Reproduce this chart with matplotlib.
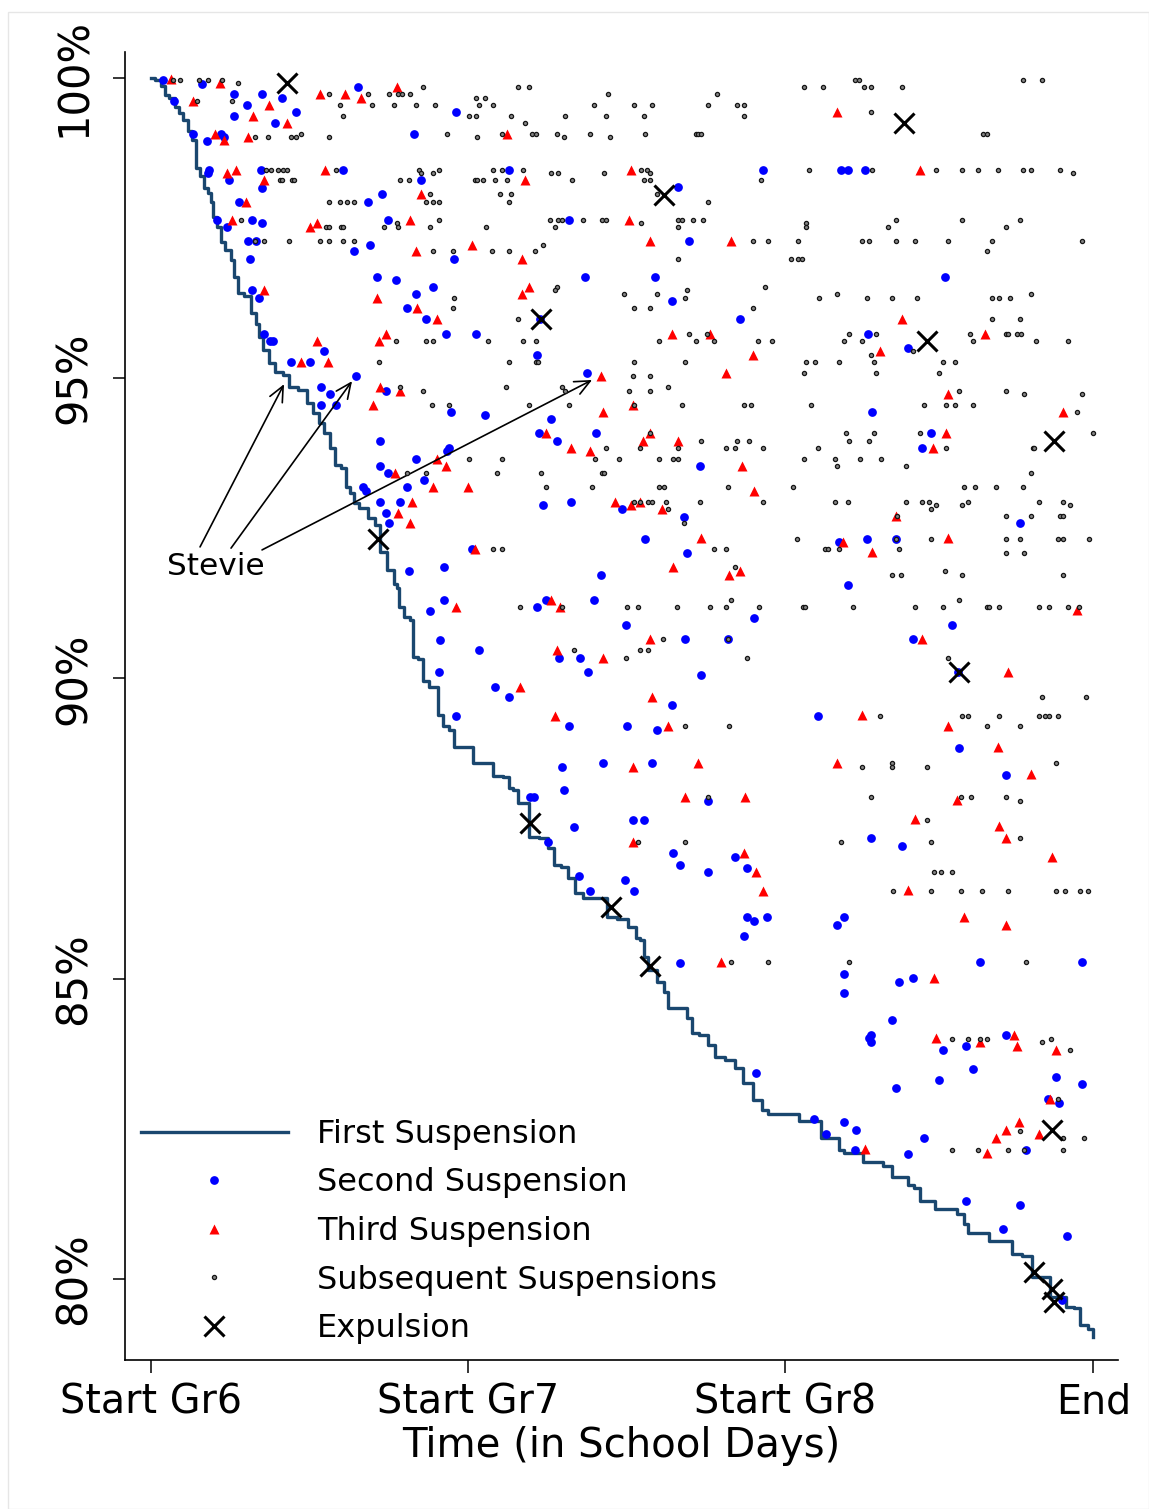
import matplotlib
matplotlib.use("Agg")
import matplotlib.pyplot as plt
from matplotlib.patches import Rectangle

# x = school days from start of grade 6 (a grade is ~180 days), y = percent of students
grade_ticks = [0, 180, 360, 535]
grade_labels = ["Start Gr6", "Start Gr7", "Start Gr8", "End"]
pct_ticks = [80, 85, 90, 95, 100]
pct_labels = ["80%", "85%", "90%", "95%", "100%"]

# first suspension survival curve
first_x = [0, 4.1, 7.0, 8.9, 11.8, 15.5, 16.5, 20.3, 21.2, 25.0, 26.0, 29.7, 30.7, 33.5, 34.8,
           35.4, 39.2, 40.1, 43.9, 46.7, 47.7, 50.5, 55.3, 58.1, 60.9, 61.9, 65.7, 68.5, 72.3,
           78.0, 78.9, 87.4, 89.3, 94.1, 96.9, 99.8, 103.5, 105.5, 110.2, 111.1, 114.9, 115.8,
           120.6, 125.3, 128.7, 131.0, 136.7, 138.6, 140.4, 141.4, 146.1, 148.0, 149.9, 153.7,
           154.6, 161.3, 164.1, 167.0, 171.7, 172.6, 182.1, 184.0, 191.5, 196.3, 202.9, 203.9,
           206.7, 210.5, 218.1, 222.8, 227.5, 230.4, 235.1, 238.9, 242.6, 247.4, 255.9, 261.6,
           267.3, 274.8, 275.8, 279.6, 280.5, 284.3, 290.0, 292.8, 294.7, 303.2, 305.1, 308.9,
           313.6, 319.3, 321.2, 330.7, 332.6, 339.2, 343.9, 349.6, 350.5, 367.4, 368.5, 377.1,
           383.7, 390.1, 391.3, 395.1, 403.6, 404.3, 414.9, 415.7, 420.6, 421.3, 429.1, 429.9,
           436.7, 436.7, 444.2, 446.2, 454.7, 460.4, 462.2, 466.0, 473.6, 478.3, 485.0, 492.5,
           496.3, 503.9, 517.1, 521.9, 526.6, 528.5, 535.1, 535.1]
first_y = [100.0, 99.97, 99.86, 99.72, 99.66, 99.52, 99.41, 99.30, 99.11, 98.97, 98.50, 98.36,
           98.16, 98.08, 97.94, 97.69, 97.52, 97.27, 97.14, 96.97, 96.69, 96.41, 96.36, 96.08,
           95.91, 95.69, 95.47, 95.25, 95.11, 95.05, 94.86, 94.80, 94.58, 94.42, 94.25, 94.08,
           93.83, 93.55, 93.50, 93.19, 93.08, 92.92, 92.83, 92.67, 92.55, 92.11, 91.81, 91.58,
           91.50, 91.19, 91.03, 90.97, 90.36, 90.33, 89.95, 89.86, 89.39, 89.20, 89.14, 88.85,
           88.85, 88.60, 88.60, 88.38, 88.36, 88.17, 88.14, 87.92, 87.36, 87.34, 87.17, 86.89,
           86.86, 86.67, 86.42, 86.35, 86.35, 86.03, 86.00, 85.86, 85.67, 85.64, 85.36, 85.14,
           84.95, 84.78, 84.52, 84.52, 84.34, 84.09, 84.06, 83.89, 83.70, 83.64, 83.51, 83.26,
           82.98, 82.81, 82.74, 82.74, 82.63, 82.63, 82.34, 82.34, 82.15, 82.10, 82.10, 81.95,
           81.95, 81.88, 81.88, 81.70, 81.70, 81.56, 81.51, 81.30, 81.30, 81.17, 81.17, 81.09,
           80.92, 80.77, 80.77, 80.63, 80.63, 80.42, 80.38, 80.03, 79.70, 79.54, 79.51, 79.23,
           79.17, 79.04]

second_x = [7.0, 29.1, 47.3, 63.2, 117.4, 13.1, 54.3, 74.2, 82.2, 47.3, 70.2, 173.2, 24.0, 32.0,
            39.6, 41.6, 149.4, 32.9, 32.2, 44.3, 62.3, 63.2, 109.2, 153.3, 50.0, 123.4, 131.3,
            37.3, 43.2, 57.2, 63.2, 134.4, 55.3, 59.5, 56.2, 115.1, 124.2, 172.2, 128.3, 139.3,
            150.3, 160.3, 57.2, 61.2, 145.4, 156.3, 167.3, 64.2, 67.4, 69.3, 98.2, 79.3, 90.3,
            116.2, 96.4, 101.5, 96.4, 105.2, 133.3, 170.4, 130.2, 150.3, 168.1, 169.2, 130.2,
            134.4, 155.2, 145.4, 120.2, 122.3,
            203.3, 347.4, 299.4, 237.5, 305.5, 246.5, 286.4, 295.5, 334.5, 220.9, 184.4, 219.4,
            247.4, 189.5, 227.3, 220.3, 230.4, 252.5, 311.4,
            391.7, 395.6, 405.6, 450.7, 406.8, 429.7, 409.6, 442.8, 437.7,
            130.2, 141.2, 133.3, 135.2, 146.3, 166.4, 166.4, 158.4, 164.3, 163.7, 173.2,
            222.4, 238.3, 267.5, 302.5, 280.4, 304.5, 182.1, 255.4, 224.3, 219.4, 251.6, 269.6,
            342.6, 303.4, 327.5, 186.3, 231.5, 243.4, 248.3, 312.5, 195.3, 203.3, 295.5, 237.4,
            270.3, 287.5, 233.4, 256.5, 284.5, 234.4, 215.2, 217.5, 316.5, 273.5, 279.6, 240.4,
            225.3, 296.4, 300.6, 331.5, 338.4, 316.5, 243.2, 269.3, 249.3, 274.4, 338.4, 342.6,
            349.6,
            493.6, 390.5, 406.6, 422.7, 395.6, 454.7, 432.5, 458.1, 378.6, 458.7, 485.7, 409.0,
            426.6, 393.5, 389.7,
            300.6, 336.6, 343.6,
            393.5, 393.5, 424.6, 432.7, 470.8, 528.8, 420.6, 408.7, 407.7, 408.7, 449.7, 462.6,
            485.7, 466.8, 447.6, 422.7, 513.7, 528.8, 509.5, 515.6, 376.5, 393.5, 400.5, 383.5,
            399.6, 438.6, 429.7, 496.7, 462.6, 493.6, 483.6, 519.8, 517.2]
second_y = [99.97, 99.90, 99.73, 99.73, 99.85, 99.61, 99.55, 99.66, 99.43, 99.37, 99.25, 99.43,
            99.07, 98.95, 99.07, 99.01, 99.07, 98.47, 98.41, 98.30, 98.47, 98.17, 98.47, 98.30,
            97.94, 97.94, 98.06, 97.64, 97.52, 97.64, 97.58, 97.64, 97.29, 97.29, 96.99, 97.11,
            97.22, 96.99, 96.69, 96.63, 96.40, 96.51, 96.46, 96.34, 96.16, 95.98, 95.74, 95.74,
            95.62, 95.62, 95.45, 95.27, 95.27, 95.03, 94.85, 94.74, 94.55, 94.55, 94.79, 94.44,
            93.96, 93.66, 93.78, 93.83, 93.54, 93.42, 93.30, 93.18, 93.18, 93.12,
            98.47, 98.47, 98.18, 97.64, 97.29, 96.69, 96.69, 96.28, 95.98, 95.98, 95.74, 95.39,
            95.09, 94.38, 94.32, 94.08, 93.96, 94.08, 93.54,
            98.47, 98.47, 98.47, 96.69, 95.74, 95.51, 94.44, 94.08, 93.84,
            92.93, 92.93, 92.75, 92.58, 91.79, 91.86, 91.31, 91.13, 90.64, 90.11, 89.38,
            92.88, 92.93, 92.82, 92.69, 92.33, 92.09, 92.16, 91.73, 91.31, 91.19, 91.31, 90.89,
            91.01, 90.65, 90.65, 90.47, 90.34, 90.34, 90.11, 90.05, 89.86, 89.69, 89.56, 89.20,
            89.20, 89.14, 88.53, 88.59, 88.59, 88.15, 88.03, 88.03, 87.96, 87.65, 87.65, 87.52,
            87.27, 87.09, 86.90, 87.03, 86.84, 86.78, 86.71, 86.65, 86.46, 86.46, 86.02, 85.96,
            86.02,
            92.58, 92.28, 92.33, 92.33, 91.55, 90.89, 90.65, 90.11, 89.38, 88.84, 88.40, 87.34,
            87.21, 86.02, 85.90,
            85.26, 85.71, 83.43,
            85.08, 84.76, 84.95, 85.01, 85.27, 85.27, 84.32, 84.07, 84.01, 83.94, 83.82, 83.88,
            84.07, 83.50, 83.31, 83.18, 83.37, 83.24, 83.00, 82.93, 82.67, 82.61, 82.48, 82.41,
            82.15, 82.35, 82.08, 82.15, 81.30, 81.24, 80.83, 80.71, 79.65]

third_x = [11.2, 39.2, 24.0, 67.2, 58.1, 77.2, 96.1, 110.2, 119.3, 139.5, 36.3, 41.3, 55.3, 43.2,
           48.3, 64.3, 99.0, 54.1, 46.2, 90.3, 94.3, 147.2, 153.3, 150.3, 64.2, 128.3, 151.2,
           162.4, 133.3, 129.3, 94.3, 85.2, 100.3, 130.2, 141.4, 126.2, 162.4, 167.3, 138.4, 160.3,
           202.3, 212.4, 272.4, 271.4, 182.5, 210.5, 283.5, 329.5, 214.5, 210.5, 295.5, 317.6,
           341.5, 326.5, 255.4, 256.5, 273.5, 224.5, 238.3, 249.3, 279.4, 283.5, 299.4, 335.4,
           180.2, 342.6,
           389.4, 436.5, 426.6, 473.6, 413.6, 452.6, 517.7, 451.6, 443.7,
           148.4, 140.3, 147.2, 173.4,
           263.5, 272.4, 277.5, 290.3, 184.2, 312.5, 296.4, 328.4, 334.6, 227.3, 232.4, 283.5,
           230.4, 256.5, 209.4, 284.5, 229.4, 293.4, 273.5, 310.4, 303.4, 337.5, 273.5, 336.6,
           343.6, 347.5,
           422.7, 392.6, 409.6, 452.6, 525.8, 437.7, 486.7, 403.6, 452.6, 480.8, 389.7, 499.7,
           457.7, 433.7, 481.7, 485.7, 511.8, 429.7, 461.7, 485.7,
           323.5,
           444.6, 445.6, 470.8, 489.7, 491.8, 513.7, 510.5, 492.7, 485.7, 479.7, 503.9, 474.6,
           405.6]
third_y = [99.98, 99.91, 99.61, 99.55, 99.37, 99.25, 99.73, 99.73, 99.67, 99.85, 99.07, 98.96,
           99.01, 98.41, 98.47, 98.30, 98.47, 97.94, 97.64, 97.52, 97.58, 97.64, 98.06, 97.11,
           96.46, 96.34, 96.16, 95.98, 95.74, 95.62, 95.62, 95.27, 95.27, 94.85, 94.79, 94.55,
           93.66, 93.54, 93.42, 93.18,
           99.07, 98.30, 98.47, 97.64, 97.22, 96.99, 97.29, 97.29, 96.51, 96.40, 95.74, 95.74,
           95.39, 95.09, 95.04, 94.44, 94.55, 94.08, 93.84, 93.78, 93.96, 94.08, 93.96, 93.54,
           93.18, 93.12,
           99.43, 98.47, 95.98, 95.74, 95.45, 94.74, 94.44, 94.08, 93.84,
           92.94, 92.76, 92.58, 91.19,
           92.94, 92.89, 92.94, 92.82, 92.16, 92.34, 91.86, 91.73, 91.79, 91.31, 91.19, 90.65,
           90.47, 90.34, 89.86, 89.69, 89.38, 89.20, 88.53, 88.59, 88.03, 88.03, 87.27, 87.09,
           86.78, 86.46,
           92.70, 92.28, 92.10, 92.34, 91.14, 90.66, 90.11, 89.39, 89.21, 88.85, 88.60, 88.41,
           87.97, 87.66, 87.54, 87.35, 87.03, 86.47, 86.03, 85.90,
           85.27,
           85.01, 84.01, 83.94, 84.07, 83.88, 83.82, 82.99, 82.62, 82.48, 82.35, 82.42, 82.09,
           82.16]

# subsequent suspensions: one row per student (percent level) with the days of each event
subseq_y = [99.97, 99.91, 99.61, 99.73, 99.85, 99.55, 99.37, 99.67, 99.01, 99.07, 99.25, 99.43,
            98.47, 98.41, 98.30, 98.06, 97.94, 97.64, 97.58, 97.52, 97.29, 97.22, 97.11, 96.99,
            96.51, 96.46, 96.40, 96.34, 96.16, 95.98, 95.74, 95.62, 95.45, 95.39, 95.27, 95.09,
            95.03, 94.85, 94.79, 94.74, 94.55, 94.44, 94.08, 93.96, 93.84, 93.66, 93.54, 93.42,
            93.18, 92.94, 92.88, 92.82, 92.70, 92.58, 92.33, 92.16, 92.09, 91.86, 91.79, 91.73,
            91.31, 91.19, 90.65, 90.47, 90.34, 89.69, 89.38, 89.20, 88.59, 88.52, 88.03, 87.96,
            87.65, 87.34, 87.27, 86.77, 86.46, 85.27, 84.00, 83.94, 83.82, 82.99, 82.47, 82.35,
            82.15]
subseq_x = [
    [12.7, 16.3, 27.3, 32.2, 40.1, 399.4, 401.7, 494.8, 505.8],
    [49.2],
    [26.3, 46.2],
    [101.1, 123.4, 135.3, 140.4, 142.4, 147.2, 259.5, 321.6],
    [154.3, 208.4, 214.5, 370.6, 381.6, 404.7, 408.7, 426.6],
    [107.2, 125.3, 138.2, 150.5, 161.3, 186.4, 194.4, 251.4, 274.4, 284.5, 316.5, 332.6, 336.6],
    [109.2, 180.4, 184.4, 204.3, 235.3, 258.4, 279.6, 336.6],
    [184.4, 189.5],
    [59.1, 66.3, 79.3, 82.2, 101.1, 185.3, 234.4, 260.5],
    [85.2, 168.3, 199.3, 216.4, 218.5, 230.4, 249.3, 280.5, 309.3, 310.8, 312.5, 472.6, 474.7],
    [212.4],
    [408.7],
    [65.1, 68.1, 72.1, 75.1, 77.2, 105.1, 152.2, 163.4, 194.4, 199.3, 211.4, 278.4, 281.5,
     373.5, 409.6, 445.8, 460.7, 469.8, 480.8, 494.8, 499.7, 515.8],
    [153.3, 160.3, 227.3, 231.3, 257.4, 283.5, 523.7],
    [73.3, 74.2, 80.2, 81.2, 141.4, 146.3, 184.0, 185.3, 188.5, 195.3, 202.3, 239.2, 279.6,
     283.5, 346.4],
    [158.3, 198.4, 204.4, 287.5],
    [101.1, 107.2, 111.1, 115.1, 156.3, 160.3, 163.4, 203.3, 316.5],
    [51.1, 163.4, 226.4, 231.3, 233.2, 245.5, 256.3, 258.4, 299.4, 301.5, 307.6, 313.5, 422.7,
     460.7, 493.6],
    [139.5, 278.4, 371.6],
    [99.2, 101.1, 108.1, 109.2, 132.5, 140.3, 158.3, 190.4, 229.4, 299.4, 371.6, 418.7, 485.7],
    [59.1, 64.3, 78.2, 96.1, 101.1, 109.2, 115.1, 341.5, 350.5, 367.6, 403.7, 407.7, 422.7,
     433.7, 452.6, 477.7, 528.7],
    [222.4],
    [160.3, 171.3, 193.5, 203.3, 218.2, 474.7],
    [299.4, 363.4, 367.6, 369.5],
    [230.4, 348.7],
    [229.4, 304.4],
    [268.4, 287.5, 389.6, 499.7],
    [172.2, 303.4, 379.5, 406.6, 420.6, 434.8, 477.7, 481.7, 487.8],
    [171.3, 274.4, 283.5, 341.5],
    [208.4, 477.7, 493.6],
    [305.5, 315.6, 396.5, 411.7, 464.7, 485.7, 486.7, 491.8, 493.9],
    [139.3, 156.3, 160.3, 191.2, 211.4, 218.5, 288.5, 309.5, 319.5, 344.5, 352.5, 393.5, 403.7,
     466.8, 502.7, 520.7],
    [432.5],
    [408.7],
    [129.3, 203.3, 218.5, 219.6, 274.4, 303.4, 371.6, 376.7, 390.5, 410.6, 449.7, 456.7],
    [370.6, 411.7, 447.6],
    [273.5, 283.5],
    [141.2, 201.4, 233.2, 293.4],
    [154.3, 235.1, 271.4, 283.5, 458.7, 485.7],
    [495.7, 528.8],
    [159.4, 169.2, 214.5, 237.5, 274.4, 301.5, 336.6, 340.5, 374.6, 438.8, 451.6, 456.7, 466.8],
    [525.7],
    [283.5, 394.7, 410.6, 436.7, 534.8],
    [312.5, 332.6, 339.6, 396.5, 407.7],
    [258.4, 277.5, 299.4, 326.5, 331.6, 347.5, 378.6, 451.6, 500.7, 501.6],
    [180.4, 199.3, 252.3, 265.4, 288.5, 296.4, 299.4, 370.6, 388.6, 402.6, 414.7],
    [389.6, 428.6],
    [145.4, 156.3, 196.3, 221.5, 256.3, 257.2, 499.7],
    [224.5, 250.4, 288.5, 291.5, 327.6, 364.4, 461.7, 467.7, 479.7, 494.8],
    [274.4, 277.5, 282.4, 284.5, 292.4, 311.6, 347.5, 388.6, 395.6, 428.6, 437.7, 441.8, 463.8,
     503.9, 517.9],
    [445.8, 460.7, 521.9],
    [293.4, 442.8],
    [423.6, 485.7, 499.7, 515.8, 517.9],
    [302.5],
    [366.7, 422.7, 442.8, 485.7, 493.6, 514.9, 517.9, 532.7],
    [194.4, 199.3, 319.5, 326.5, 382.6, 384.6, 390.7, 424.8],
    [485.7, 495.7],
    [331.5],
    [450.7],
    [420.6, 425.7, 460.7, 517.7],
    [329.5, 458.7],
    [209.4, 233.4, 270.5, 276.5, 298.5, 317.4, 326.5, 345.4, 370.4, 371.4, 398.6, 433.7, 449.7,
     474.7, 475.7, 481.7, 503.9, 509.8, 520.7, 526.8],
    [290.6, 327.5],
    [240.4, 277.5, 282.4],
    [269.6, 338.4, 452.6],
    [505.8, 530.8],
    [413.6, 460.7, 463.8, 481.7, 503.9, 507.8, 509.9, 514.9],
    [303.4, 328.4, 474.7, 493.6],
    [420.6, 513.7],
    [403.7, 420.6, 440.7],
    [316.5, 408.7, 459.8, 465.6, 485.7],
    [493.6],
    [440.7],
    [493.6],
    [276.5, 303.4, 391.7, 442.8],
    [444.6, 448.6, 454.7],
    [421.5, 442.8, 459.8, 471.7, 486.7, 513.7, 518.8, 527.7, 531.9],
    [329.5, 350.5, 396.5, 496.7],
    [454.7, 463.8, 470.8, 474.7, 510.7],
    [505.8],
    [521.7],
    [514.9],
    [493.6],
    [517.7, 529.8],
    [454.7, 469.6, 486.7, 495.7, 517.7],
]

expel_x = [77.1, 427.6, 291.3, 221.3, 440.5, 129.1, 512.4, 458.7, 215.2, 261.2, 283.4, 511.5,
           501.6, 511.5, 512.8]
expel_y = [99.91, 99.25, 98.05, 95.98, 95.62, 92.33, 93.95, 90.10, 87.59, 86.20, 85.21, 82.48,
           80.11, 79.84, 79.62]

# Stevie: first, second and third suspension
stevie_x = [75.5, 114.1, 250.4]
stevie_y = [94.90, 94.95, 94.97]

sx, sy = [], []
for yv, row in zip(subseq_y, subseq_x):
    for xv in row:
        sx.append(xv)
        sy.append(yv)

fig = plt.figure(figsize=(11.49, 15.09), dpi=100)
fig.patches.append(Rectangle((8 / 1149, 0), 1 - 8 / 1149, 1 - 12 / 1509, transform=fig.transFigure,
                             fill=False, edgecolor="#e6e6e6", linewidth=1))
ax = fig.add_axes([0.1088, 0.0987, 0.8642, 0.8668])

ax.plot(first_x, first_y, color="#1a476f", lw=2.4, drawstyle="steps-mid",
        label="First Suspension", zorder=2)
ax.plot(second_x, second_y, "o", color="#0000ff", ms=6.3, mec="none",
        label="Second Suspension", zorder=3)
ax.plot(third_x, third_y, "^", color="#ff0000", ms=6.8, mec="none",
        label="Third Suspension", zorder=3)
ax.plot(sx, sy, "o", ms=3.0, mfc="#858585", mec="#151515", mew=0.9,
        label="Subsequent Suspensions", zorder=4)
ax.plot(expel_x, expel_y, "x", color="black", ms=14, mew=2.2, label="Expulsion", zorder=5)

ax.text(36.9, 91.86, "Stevie", fontsize=22.5, ha="center", va="center")
tails = [(27.8, 92.19), (45.4, 92.17), (63.0, 92.14)]
for (tx, ty), hx, hy in zip(tails, stevie_x, stevie_y):
    ax.annotate("", xy=(hx, hy), xytext=(tx, ty),
                arrowprops=dict(arrowstyle="->,head_length=0.55,head_width=0.25",
                                color="black", lw=1.2, shrinkA=0, shrinkB=0,
                                mutation_scale=20))

ax.set_xlim(-14.8, 549)
ax.set_ylim(78.65, 100.43)
ax.set_xticks(grade_ticks)
ax.set_xticklabels(grade_labels)
ax.set_yticks(pct_ticks)
ax.set_yticklabels(pct_labels, rotation=90, va="center")
ax.tick_params(axis="both", length=9, width=1.1, color="black")
ax.tick_params(axis="y", pad=13, labelsize=30)
ax.tick_params(axis="x", pad=7, labelsize=28.5)
ax.set_xlabel("Time (in School Days)", fontsize=29, labelpad=3)

for side in ["top", "right"]:
    ax.spines[side].set_visible(False)
for side in ["left", "bottom"]:
    ax.spines[side].set_linewidth(1.2)

ax.legend(loc="lower left", bbox_to_anchor=(0, 0), frameon=False, fontsize=23,
          handlelength=4.6, handletextpad=0.9, labelspacing=0.55, borderaxespad=0.1)

fig.savefig("out.png", dpi=100)
